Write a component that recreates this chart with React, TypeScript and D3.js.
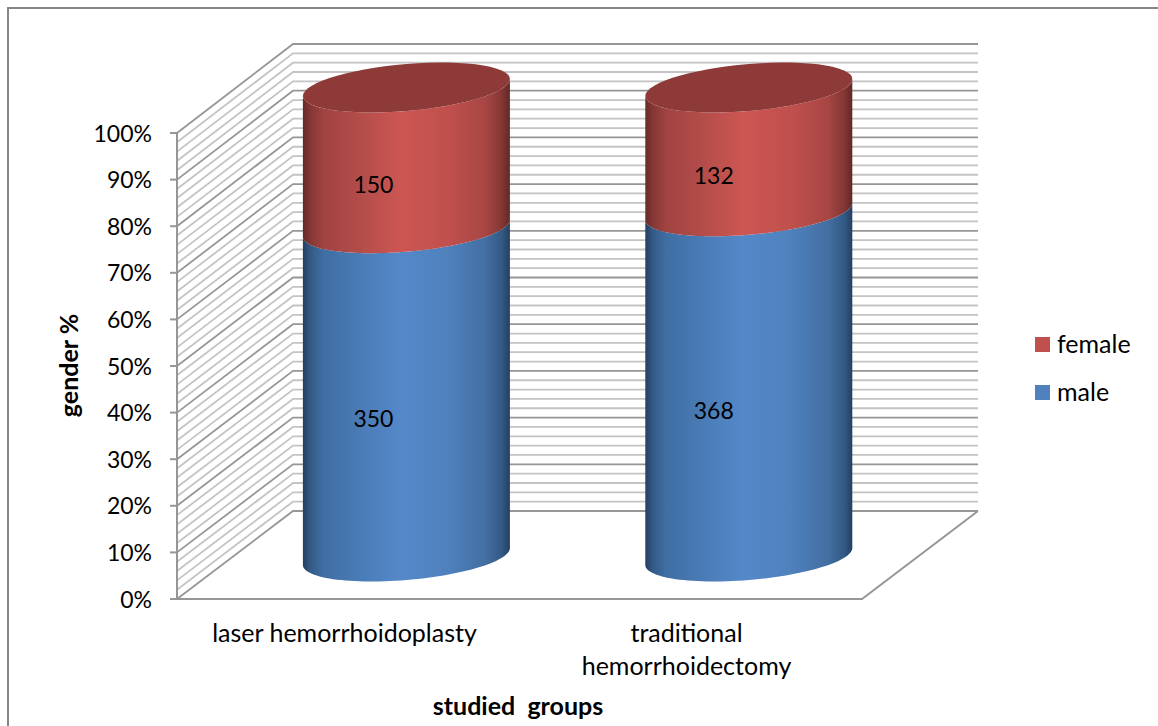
import React from "react";
import * as d3 from "d3";

const categories: string[][] = [["laser hemorrhoidoplasty"], ["traditional", "hemorrhoidectomy"]];
const maleValues = [350, 368];
const femaleValues = [150, 132];
const percentTicks = [0, 10, 20, 30, 40, 50, 60, 70, 80, 90, 100];
const minorTicks = d3.range(0, 101, 2).filter((v) => v % 10 !== 0);
const legendItems = [
  { label: "female", color: "#c0504d", y: 345 },
  { label: "male", color: "#4f81bd", y: 393 },
];

const FONT = "Lato, 'Open Sans', sans-serif";
const frontY = d3.scaleLinear().domain([0, 100]).range([599, 133]);
const backY = d3.scaleLinear().domain([0, 100]).range([511, 44]);
const barY = d3.scaleLinear().domain([0, 100]).range([556.5, 87.5]);
const xBand = d3.scaleBand<number>().domain([0, 1]).range([235.2, 920]);
const frontL = 177, frontR = 862, backL = 293, backR = 978;
const RX = 103.5, RY = 23.5, SHEAR = -8.5;

const line = d3.line<[number, number]>();
const ringPt = (cx: number, cy: number, t: number): [number, number] => [
  cx + RX * Math.cos(t),
  cy + RY * Math.sin(t) + SHEAR * Math.cos(t),
];
const ring = (cx: number, cy: number, from: number, to: number) =>
  d3.range(0, 61).map((i) => ringPt(cx, cy, from + ((to - from) * i) / 60));
const segment = (cx: number, v0: number, v1: number) =>
  line([...ring(cx, barY(v1), Math.PI, 0), ...ring(cx, barY(v0), 0, Math.PI)]) + "Z";
const topCap = (cx: number, v: number) => line(ring(cx, barY(v), 0, Math.PI * 2)) + "Z";

const redStops: [number, string][] = [[0, "#672a28"], [0.035, "#843734"], [0.1, "#a04341"], [0.3, "#b64e4b"], [0.47, "#cc5652"], [0.7, "#c0504d"], [0.88, "#a84644"], [0.96, "#843734"], [1, "#632826"]];
const blueStops: [number, string][] = [[0, "#243f60"], [0.035, "#335a85"], [0.1, "#3f6ea3"], [0.3, "#4b7db8"], [0.47, "#5488c9"], [0.7, "#4f81bd"], [0.88, "#436fa2"], [0.96, "#335a85"], [1, "#243f60"]];

export default function App() {
  return (
    <svg width={1158} height={726} style={{ position: "absolute", left: 0, top: 0, background: "#fff" }} fontFamily={FONT}>
      <defs>
        <linearGradient id="red" x1="0" x2="1" y1="0" y2="0">
          {redStops.map(([o, c]) => <stop key={o} offset={o} stopColor={c} />)}
        </linearGradient>
        <linearGradient id="blue" x1="0" x2="1" y1="0" y2="0">
          {blueStops.map(([o, c]) => <stop key={o} offset={o} stopColor={c} />)}
        </linearGradient>
      </defs>
      <path d="M8,726V8H1158" fill="none" stroke="#868686" strokeWidth={2} />

      {minorTicks.map((v) => (
        <path key={v} d={`M${frontL},${frontY(v)}L${backL},${backY(v)}H${backR}`} fill="none" stroke="#c4c4c4" strokeWidth={1.8} />
      ))}
      {percentTicks.map((v) => (
        <path key={v} d={`M${frontL},${frontY(v)}L${backL},${backY(v)}H${backR}`} fill="none" stroke="#969696" strokeWidth={1.8} />
      ))}
      <path d={`M${frontL},${frontY(100)}V${frontY(0)}H${frontR}L${backR},${backY(0)}`} fill="none" stroke="#969696" strokeWidth={2} />
      {percentTicks.map((v) => (
        <line key={v} x1={170} x2={frontL} y1={frontY(v)} y2={frontY(v)} stroke="#969696" strokeWidth={2} />
      ))}

      {percentTicks.map((v) => (
        <text key={v} x={152} y={frontY(v) + 8.5} textAnchor="end" fontSize={23} fill="#000">{v}%</text>
      ))}

      {categories.map((c, i) => {
        const cx = xBand(i)! + xBand.bandwidth() / 2;
        const total = maleValues[i] + femaleValues[i];
        const mp = (maleValues[i] / total) * 100;
        const dx = i === 0 ? -33 : -35;
        return (
          <g key={i}>
            <path d={segment(cx, 0, mp)} fill="url(#blue)" />
            <path d={segment(cx, mp, 100)} fill="url(#red)" />
            <path d={topCap(cx, 100)} fill="#8e3a38" />
            <text x={cx + dx} y={barY(mp / 2) + 35} textAnchor="middle" fontSize={23} fill="#000">{maleValues[i]}</text>
            <text x={cx + dx} y={barY(mp + (100 - mp) / 2) + 35} textAnchor="middle" fontSize={23} fill="#000">{femaleValues[i]}</text>
            {c.map((t, j) => (
              <text key={j} x={i === 0 ? 344.5 : 686.5} y={642 + j * 33} textAnchor="middle" fontSize={25} fill="#000">{t}</text>
            ))}
          </g>
        );
      })}

      {legendItems.map((d) => (
        <g key={d.label}>
          <rect x={1035} y={d.y - 8} width={15} height={15} fill={d.color} />
          <text x={1057} y={d.y + 8} fontSize={25} fill="#000">{d.label}</text>
        </g>
      ))}

      <text x={518} y={715} textAnchor="middle" fontSize={25} fontWeight="bold" xmlSpace="preserve" fill="#000">studied  groups</text>
      <text transform="translate(78,365.5) rotate(-90)" textAnchor="middle" fontSize={25} fontWeight="bold" fill="#000">gender %</text>
    </svg>
  );
}
